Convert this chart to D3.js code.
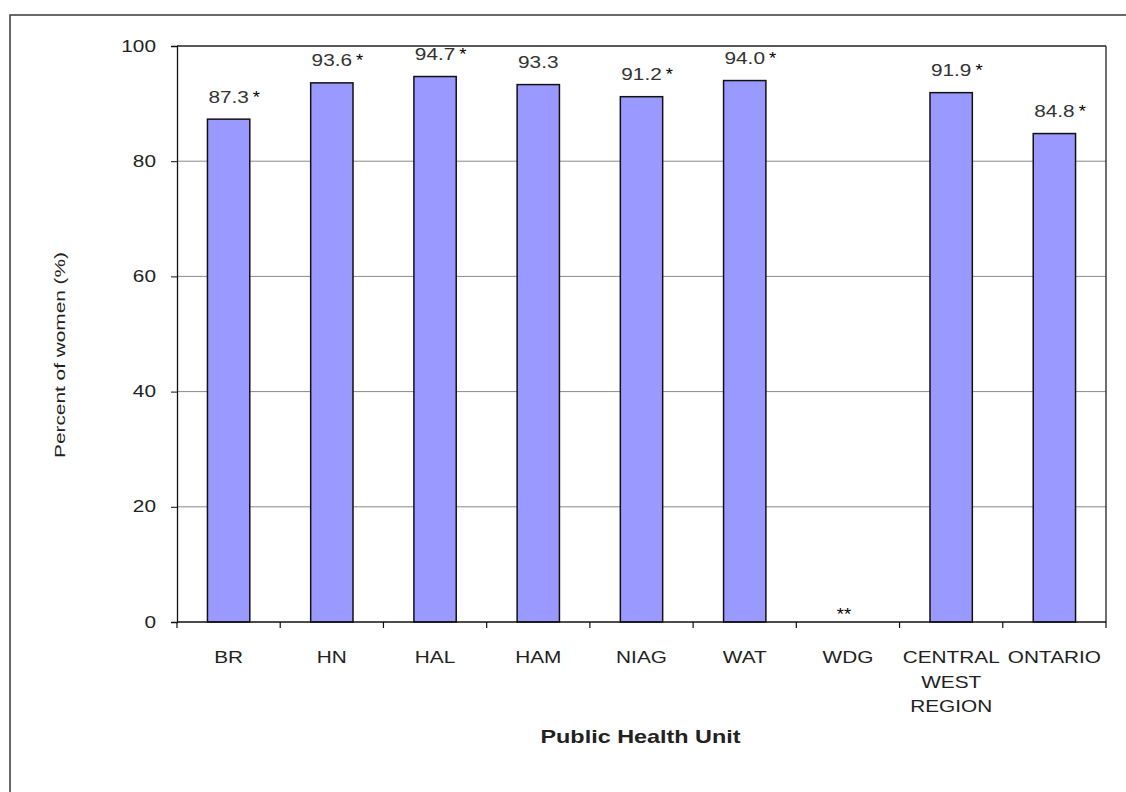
<!DOCTYPE html>
<html>
<head>
<meta charset="utf-8">
<script src="https://cdn.jsdelivr.net/npm/d3@7"></script>
<style>
  html, body { margin: 0; padding: 0; background: #fff; }
  svg { display: block; font-family: "Liberation Sans", Arial, sans-serif; }
</style>
</head>
<body>
<svg id="chart" width="1126" height="792"></svg>
<script>
// ---- data ----
const categories = ["BR", "HN", "HAL", "HAM", "NIAG", "WAT", "WDG", "CENTRAL WEST REGION", "ONTARIO"];
const categoryLines = [["BR"], ["HN"], ["HAL"], ["HAM"], ["NIAG"], ["WAT"], ["WDG"], ["CENTRAL", "WEST", "REGION"], ["ONTARIO"]];
const values = [87.3, 93.6, 94.7, 93.3, 91.2, 94.0, null, 91.9, 84.8];
const flags = ["*", "*", "*", "", "*", "*", "**", "*", "*"];
const yTicks = [0, 20, 40, 60, 80, 100];
const yTitle = "Percent of women (%)";
const xTitle = "Public Health Unit";

(function () {
// ---- layout ----
const svg = d3.select("#chart");
const pL = 177, pR = 1106, pT = 46, pB = 622;
const SX = 1.3; // horizontal stretch of the reference's text

// outer frame (only left and top edges visible)
svg.append("rect").attr("x", 10).attr("y", 15).attr("width", 1140).attr("height", 800)
  .attr("fill", "none").attr("stroke", "#444").attr("stroke-width", 1.6);

const x = d3.scaleBand().domain(categories).range([pL, pR]).paddingInner(0.59).paddingOuter(0.295);
const y = d3.scaleLinear().domain([0, 100]).range([pB, pT]);

// gridlines
svg.append("g").selectAll("line").data(yTicks.filter(t => t > 0 && t < 100)).join("line")
  .attr("x1", pL).attr("x2", pR).attr("y1", d => y(d)).attr("y2", d => y(d))
  .attr("stroke", "#8a8a8a").attr("stroke-width", 1);

// plot top & right border
svg.append("line").attr("x1", pL).attr("x2", pR).attr("y1", pT).attr("y2", pT).attr("stroke", "#222").attr("stroke-width", 1.3);
svg.append("line").attr("x1", pR).attr("x2", pR).attr("y1", pT).attr("y2", pB).attr("stroke", "#222").attr("stroke-width", 1.3);

// bars
svg.append("g").selectAll("rect").data(categories.map((c, i) => ({c, v: values[i]})).filter(d => d.v != null)).join("rect")
  .attr("x", d => x(d.c)).attr("width", x.bandwidth())
  .attr("y", d => y(d.v)).attr("height", d => y(0) - y(d.v))
  .attr("fill", "#9999ff").attr("stroke", "#111").attr("stroke-width", 1.5);

// y axis
const yAxis = svg.append("g").attr("transform", `translate(${pL},0)`)
  .call(d3.axisLeft(y).tickValues(yTicks).tickSize(6).tickPadding(15).tickFormat(d3.format("d")));
yAxis.select(".domain").attr("stroke", "#111").attr("stroke-width", 1.3);
yAxis.selectAll(".tick line").attr("stroke", "#111");
yAxis.selectAll(".tick text").attr("font-size", 16).attr("fill", "#222")
  .attr("font-family", "Liberation Sans, Arial, sans-serif")
  .each(function() {
    const t = d3.select(this);
    const xx = +t.attr("x");
    t.attr("x", 0).attr("transform", `translate(${xx},0) scale(${SX},1)`);
  });

// x axis line & ticks at band boundaries
svg.append("line").attr("x1", pL).attr("x2", pR).attr("y1", pB).attr("y2", pB)
  .attr("stroke", "#111").attr("stroke-width", 1.3);
const boundaries = categories.map(c => x(c) - x.step() * x.paddingInner() / 2).concat([pR]);
boundaries[0] = pL;
svg.append("g").selectAll("line").data(boundaries).join("line")
  .attr("x1", d => d).attr("x2", d => d).attr("y1", pB).attr("y2", pB + 6)
  .attr("stroke", "#111").attr("stroke-width", 1.2);

// category labels
const catG = svg.append("g").attr("font-size", 16).attr("fill", "#222").attr("text-anchor", "middle");
categories.forEach((c, i) => {
  const cx = x(c) + x.bandwidth() / 2;
  categoryLines[i].forEach((line, j) => {
    catG.append("text").attr("transform", `translate(${cx},${663 + j * 24.5}) scale(${SX},1)`).text(line);
  });
});

// value labels + flags
const valG = svg.append("g").attr("font-size", 16);
categories.forEach((c, i) => {
  const cx = x(c) + x.bandwidth() / 2;
  if (values[i] != null) {
    const by = y(values[i]) - 16.5;
    const t = valG.append("text").attr("text-anchor", "middle").attr("fill", "#333")
      .attr("transform", `translate(${cx},${by}) scale(${SX},1)`).text(values[i].toFixed(1));
    const w = t.node().getComputedTextLength() * SX;
    if (flags[i]) {
      valG.append("text").attr("text-anchor", "start").attr("fill", "#000")
        .attr("transform", `translate(${cx + w / 2 + 4},${by}) scale(1.15,1)`).text(flags[i]);
    }
  } else if (flags[i]) {
    valG.append("text").attr("text-anchor", "middle").attr("fill", "#000")
      .attr("transform", `translate(${cx - 4},${pB - 2}) scale(1.15,1)`).text(flags[i]);
  }
});

// axis titles
svg.append("text").attr("text-anchor", "middle").attr("font-size", 18).attr("font-weight", "bold").attr("fill", "#222")
  .attr("transform", `translate(${(pL + pR) / 2 - 1},743) scale(1.3,1)`).text(xTitle);
svg.append("text").attr("text-anchor", "middle").attr("font-size", 15).attr("fill", "#222")
  .attr("transform", `translate(65,355) rotate(-90)`)
  .attr("textLength", 206).attr("lengthAdjust", "spacingAndGlyphs").text(yTitle);
})();
</script>
</body>
</html>
